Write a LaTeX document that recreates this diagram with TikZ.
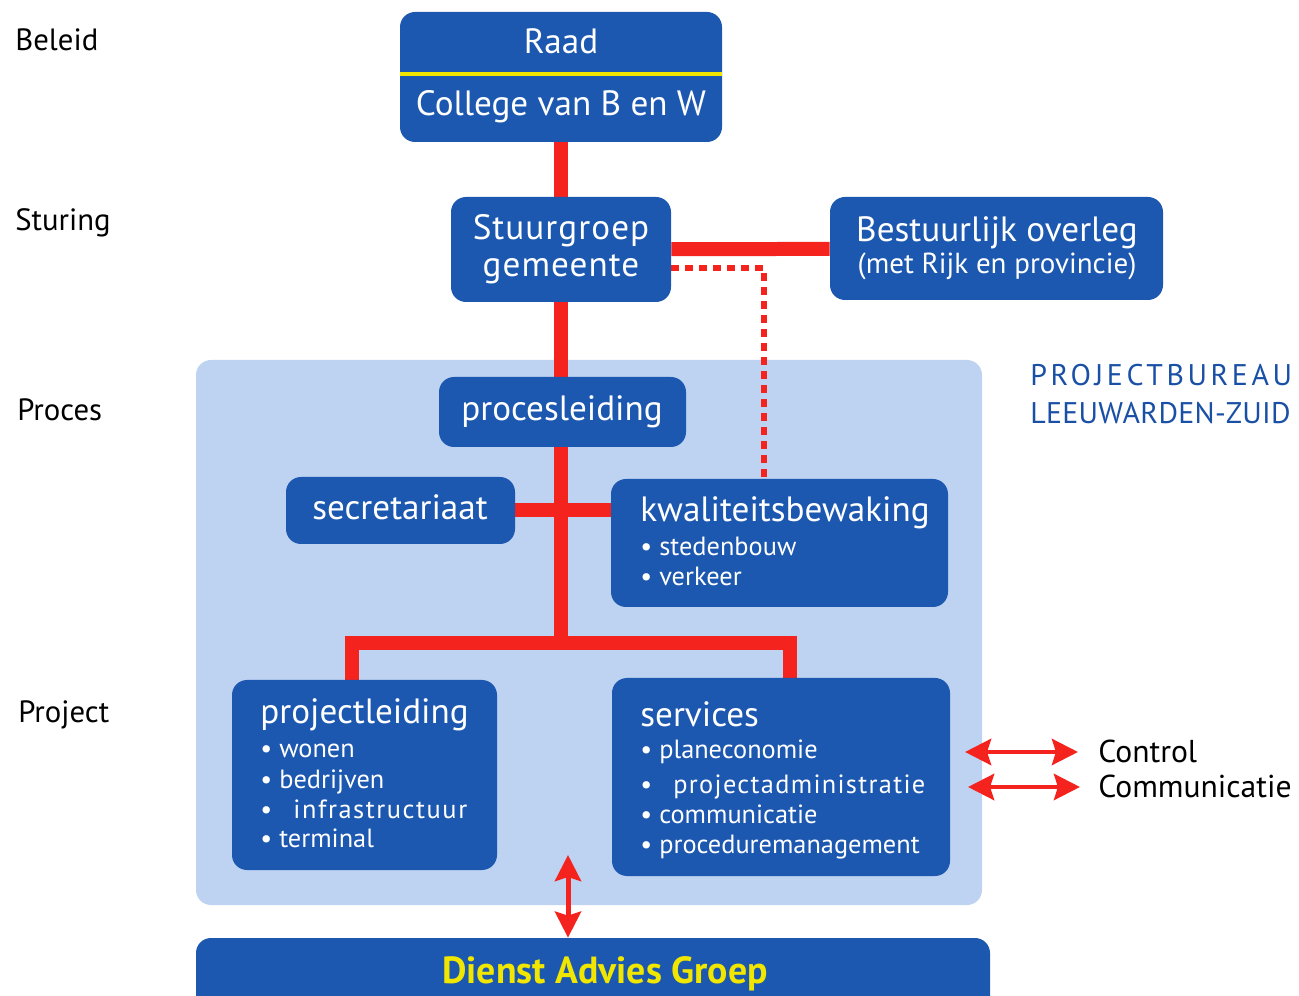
\documentclass[tikz,border=0pt]{standalone}
\usepackage{fontspec}
\setmainfont{PT Sans}
\usetikzlibrary{arrows.meta,fit}
\definecolor{boxblue}{RGB}{28,88,176}
\definecolor{panelblue}{RGB}{190,210,242}
\definecolor{linered}{RGB}{245,35,30}
\definecolor{lineyellow}{RGB}{240,230,0}
\definecolor{textblue}{RGB}{25,80,165}
\pgfdeclarelayer{panellayer}
\pgfdeclarelayer{edgelayer}
\pgfsetlayers{panellayer,edgelayer,main}
\tikzstyle{box}=[rectangle, rounded corners=0.3cm, fill=boxblue, draw=none, inner sep=0pt]
\tikzstyle{panel}=[rectangle, rounded corners=0.3cm, fill=panelblue, draw=none, inner sep=0pt]
\tikzstyle{boxtitle}=[text=white, inner sep=0pt, anchor=base, font=\fontsize{20}{24}\selectfont]
\tikzstyle{entry}=[text=white, inner sep=0pt, anchor=base west, font=\fontsize{15}{18}\selectfont]
\tikzstyle{tier}=[text=black, inner sep=0pt, anchor=base west, font=\fontsize{17.5}{21}\selectfont]
\tikzstyle{link}=[draw=linered, line width=0.28cm]
\tikzstyle{dotlink}=[draw=linered, line width=0.11cm, dash pattern=on 0.16cm off 0.12cm]
\tikzstyle{twoway}=[draw=linered, line width=0.1cm, {Stealth[length=0.52cm,width=0.52cm,inset=0.08cm]}-{Stealth[length=0.52cm,width=0.52cm,inset=0.08cm]}]

\begin{document}
\begin{tikzpicture}[x=0.02cm, y=-0.02cm]
    \useasboundingbox (0,0) rectangle (1299,996);
    % panel of the projectbureau
    \begin{pgfonlayer}{panellayer}
        \node [style=panel, fit={(196,360) (982,905)}] (bureau) {};
    \end{pgfonlayer}

    % boxes
    \node [style=box, fit={(400,12) (722,142)}] (raad) {};
    \node [style=box, fit={(451,197) (671,302)}] (stuur) {};
    \node [style=box, fit={(830,197) (1163,300)}] (overleg) {};
    \node [style=box, fit={(439,377) (686,447)}] (proces) {};
    \node [style=box, fit={(286,477) (515,544)}] (secr) {};
    \node [style=box, fit={(611,479) (948,607)}] (kwal) {};
    \node [style=box, fit={(232,680) (497,870)}] (projl) {};
    \node [style=box, fit={(612,678) (950,876)}] (serv) {};
    \node [style=box, fit={(196,938) (990,1030)}] (dienst) {};

    % texts in the boxes
    \coordinate (div) at (561,74);
    \draw [lineyellow, line width=0.08cm] (raad.west |- div) -- (raad.east |- div);
    \node [style=boxtitle] (raadtext) at (561,54) {Raad};
    \node [style=boxtitle] (collegetext) at (561,116) {College van B en W};
    \node [style=boxtitle, font=\fontsize{20}{24}\selectfont\addfontfeature{LetterSpace=3}] (stuurtext) at (561,240) {Stuurgroep};
    \node [style=boxtitle, font=\fontsize{20}{24}\selectfont\addfontfeature{LetterSpace=3}] (gemtext) at (561,277) {gemeente};
    \node [style=boxtitle] (overlegtext) at (997,242) {Bestuurlijk overleg};
    \node [style=boxtitle, font=\fontsize{16.5}{19}\selectfont] (rijktext) at (997,274) {(met Rijk en provincie)};
    \node [style=boxtitle] (procestext) at (562,421) {procesleiding};
    \node [style=boxtitle] (secrtext) at (400,520) {secretariaat};
    \node [style=boxtitle, anchor=base west] (kwaltext) at (640,522) {kwaliteitsbewaking};
    \node [style=entry] (kwal1) at (640,556) {\textbullet\ stedenbouw};
    \node [style=entry] (kwal2) at (640,586) {\textbullet\ verkeer};
    \node [style=boxtitle, anchor=base west] (projltext) at (260,724) {projectleiding};
    \node [style=entry] (projl1) at (260,758) {\textbullet\ wonen};
    \node [style=entry] (projl2) at (260,788) {\textbullet\ bedrijven};
    \node [style=entry] (projl3) at (260,818) {\textbullet\ \ \ {\addfontfeature{LetterSpace=6}infrastructuur}};
    \node [style=entry] (projl4) at (260,847) {\textbullet\ terminal};
    \node [style=boxtitle, anchor=base west] (servtext) at (640,726) {services};
    \node [style=entry] (serv1) at (640,759) {\textbullet\ planeconomie};
    \node [style=entry] (serv2) at (640,793) {\textbullet\ \ \ {\addfontfeature{LetterSpace=5}projectadministratie}};
    \node [style=entry] (serv3) at (640,824) {\textbullet\ communicatie};
    \node [style=entry] (serv4) at (640,853) {\textbullet\ proceduremanagement};
    \node [style=boxtitle, text=lineyellow, font=\fontsize{21.5}{26}\selectfont\bfseries] (diensttext) at (605,983) {Dienst Advies Groep};

    % labels outside
    \node [style=tier] (beleid) at (15,51) {Beleid};
    \node [style=tier] (sturing) at (15,231) {Sturing};
    \node [style=tier] (procesl) at (17,421) {Proces};
    \node [style=tier] (project) at (18,723) {Project};
    \node [style=tier, text=textblue, font=\fontsize{17}{20}\selectfont\addfontfeature{LetterSpace=12}] (pb1) at (1030,386) {PROJECTBUREAU};
    \node [style=tier, text=textblue, font=\fontsize{17}{20}\selectfont\addfontfeature{LetterSpace=1}] (pb2) at (1030,424) {LEEUWARDEN-ZUID};
    \node [style=tier, font=\fontsize{18}{21}\selectfont] (control) at (1098,763) {Control};
    \node [style=tier, font=\fontsize{18}{21}\selectfont] (commu) at (1098,798) {Communicatie};

    % connectors
    \begin{pgfonlayer}{edgelayer}
        \coordinate (split) at (561,643);
        \coordinate (left) at (352,643);
        \coordinate (right) at (790,643);
        \coordinate (dot) at (764,268);
        \draw [style=link] (raad.south) -- (stuur.north);
        \draw [style=link] (stuur.south) -- (stuur.south |- proces.north);
        \draw [style=link] (proces.south -| split) -- (split);
        \draw [style=link] (stuur) -- (overleg);
        \draw [style=link] (secr.east) -- (secr.east -| kwal.west);
        \draw [style=link, line cap=rect] (left |- projl.north) -- (left) -- (right) -- (right |- serv.north);
        \draw [style=dotlink] (stuur.east |- dot) -- (dot) -- (dot |- kwal.north);
    \end{pgfonlayer}

    \coordinate (c1) at (965,752);
    \coordinate (c2) at (1078,752);
    \coordinate (m1) at (968,787);
    \coordinate (m2) at (1080,787);
    \coordinate (d1) at (568,855);
    \draw [style=twoway] (c1) -- (c2);
    \draw [style=twoway] (m1) -- (m2);
    \draw [style=twoway] (d1) -- (d1 |- dienst.north);
\end{tikzpicture}
\end{document}
